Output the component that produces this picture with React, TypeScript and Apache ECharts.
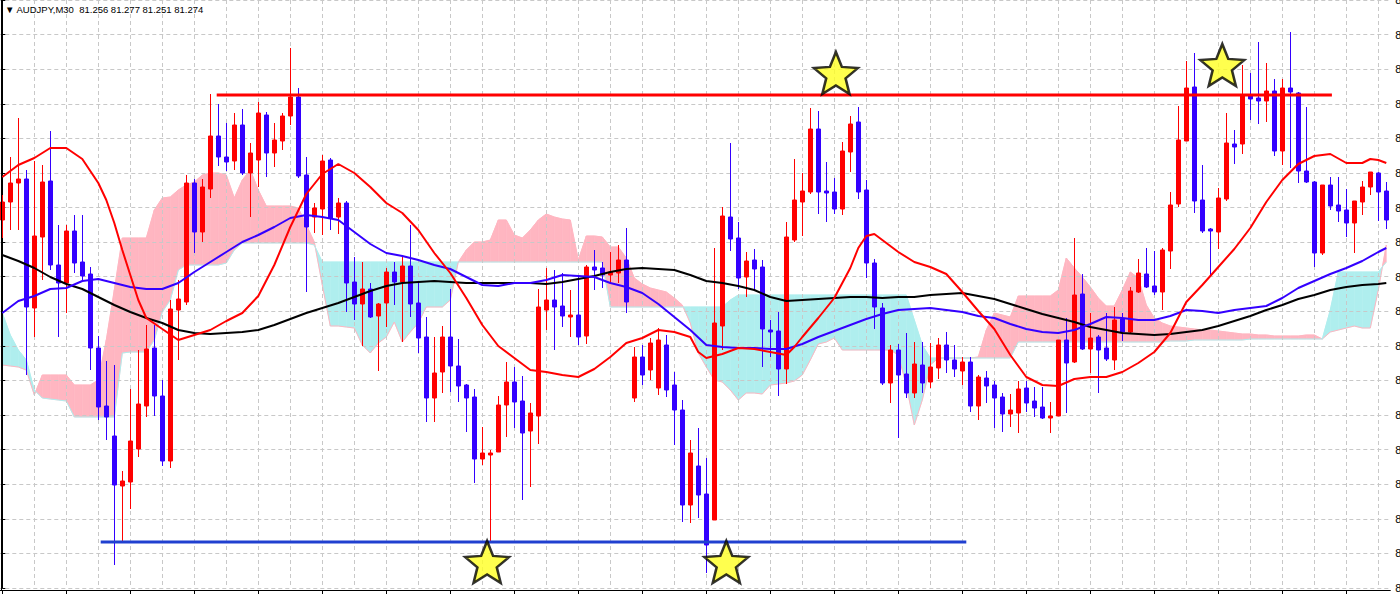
import React, { useEffect, useRef } from "react";
import * as echarts from "echarts";

const SYMBOL = "AUDJPY,M30";
const HEADER_QUOTE = ["81.256", "81.277", "81.251", "81.274"];

const Y_MIN = 81.212;
const Y_MAX = 81.8;
const Y_STEPS = 17;

// [open, high, low, close]
const ohlc: number[][] = [
  [81.580, 81.605, 81.562, 81.598], [81.598, 81.643, 81.570, 81.617], [81.617, 81.682, 81.570, 81.621], [81.621, 81.630, 81.425, 81.493],
  [81.492, 81.639, 81.463, 81.564], [81.563, 81.635, 81.520, 81.618], [81.619, 81.669, 81.530, 81.535], [81.535, 81.575, 81.463, 81.517],
  [81.517, 81.575, 81.487, 81.569], [81.569, 81.585, 81.527, 81.537], [81.538, 81.585, 81.520, 81.524], [81.526, 81.533, 81.430, 81.452],
  [81.452, 81.464, 81.380, 81.393], [81.394, 81.439, 81.360, 81.383], [81.364, 81.435, 81.235, 81.315], [81.314, 81.329, 81.258, 81.319],
  [81.318, 81.411, 81.291, 81.359], [81.351, 81.450, 81.343, 81.396], [81.394, 81.475, 81.383, 81.451], [81.452, 81.475, 81.384, 81.404],
  [81.404, 81.420, 81.334, 81.339], [81.339, 81.500, 81.332, 81.491], [81.490, 81.520, 81.440, 81.501], [81.498, 81.625, 81.495, 81.617],
  [81.617, 81.621, 81.547, 81.568], [81.568, 81.621, 81.558, 81.613], [81.611, 81.706, 81.602, 81.664], [81.664, 81.696, 81.634, 81.643],
  [81.643, 81.677, 81.629, 81.638], [81.639, 81.687, 81.630, 81.675], [81.675, 81.691, 81.625, 81.627], [81.627, 81.657, 81.583, 81.647],
  [81.640, 81.698, 81.613, 81.687], [81.685, 81.688, 81.623, 81.647], [81.647, 81.677, 81.633, 81.660], [81.659, 81.687, 81.650, 81.684],
  [81.684, 81.752, 81.675, 81.703], [81.703, 81.712, 81.622, 81.624], [81.625, 81.643, 81.508, 81.573], [81.583, 81.597, 81.567, 81.592],
  [81.591, 81.645, 81.565, 81.639], [81.640, 81.642, 81.570, 81.582], [81.583, 81.602, 81.566, 81.597], [81.597, 81.599, 81.488, 81.517],
  [81.518, 81.543, 81.480, 81.496], [81.496, 81.538, 81.454, 81.511], [81.511, 81.517, 81.482, 81.483], [81.484, 81.497, 81.429, 81.496],
  [81.497, 81.532, 81.473, 81.528], [81.528, 81.538, 81.495, 81.518], [81.518, 81.543, 81.458, 81.534], [81.534, 81.575, 81.483, 81.496],
  [81.497, 81.517, 81.447, 81.462], [81.463, 81.483, 81.378, 81.402], [81.402, 81.463, 81.378, 81.427], [81.428, 81.474, 81.407, 81.463],
  [81.463, 81.511, 81.408, 81.434], [81.434, 81.461, 81.398, 81.414], [81.415, 81.416, 81.368, 81.402], [81.403, 81.411, 81.317, 81.341],
  [81.341, 81.373, 81.335, 81.347], [81.345, 81.350, 81.257, 81.347], [81.348, 81.404, 81.348, 81.395], [81.395, 81.438, 81.363, 81.418],
  [81.418, 81.433, 81.372, 81.398], [81.399, 81.424, 81.300, 81.367], [81.369, 81.397, 81.313, 81.387], [81.384, 81.511, 81.356, 81.493],
  [81.490, 81.532, 81.470, 81.500], [81.500, 81.530, 81.450, 81.493], [81.494, 81.527, 81.473, 81.484], [81.483, 81.510, 81.463, 81.485],
  [81.485, 81.523, 81.455, 81.463], [81.464, 81.535, 81.456, 81.533], [81.533, 81.550, 81.510, 81.530], [81.532, 81.538, 81.512, 81.525],
  [81.525, 81.548, 81.517, 81.528], [81.527, 81.555, 81.517, 81.540], [81.540, 81.572, 81.487, 81.498], [81.402, 81.453, 81.398, 81.443],
  [81.443, 81.455, 81.415, 81.425], [81.430, 81.462, 81.420, 81.457], [81.412, 81.472, 81.405, 81.460], [81.455, 81.465, 81.403, 81.410],
  [81.415, 81.428, 81.355, 81.390], [81.390, 81.400, 81.278, 81.295], [81.295, 81.360, 81.277, 81.347], [81.334, 81.372, 81.282, 81.305],
  [81.306, 81.342, 81.227, 81.255], [81.280, 81.552, 81.280, 81.477], [81.474, 81.593, 81.450, 81.584], [81.583, 81.657, 81.549, 81.561],
  [81.562, 81.578, 81.511, 81.522], [81.523, 81.548, 81.503, 81.539], [81.540, 81.551, 81.510, 81.531], [81.533, 81.540, 81.433, 81.471],
  [81.470, 81.480, 81.443, 81.468], [81.469, 81.488, 81.404, 81.431], [81.431, 81.578, 81.416, 81.563], [81.560, 81.641, 81.558, 81.600],
  [81.598, 81.627, 81.564, 81.609], [81.608, 81.692, 81.606, 81.671], [81.671, 81.689, 81.586, 81.608], [81.609, 81.638, 81.578, 81.607],
  [81.608, 81.622, 81.586, 81.591], [81.591, 81.658, 81.585, 81.649], [81.648, 81.684, 81.628, 81.676], [81.678, 81.693, 81.601, 81.608],
  [81.610, 81.620, 81.522, 81.537], [81.537, 81.541, 81.471, 81.493], [81.492, 81.497, 81.415, 81.417], [81.417, 81.455, 81.397, 81.450],
  [81.450, 81.456, 81.362, 81.425], [81.426, 81.467, 81.402, 81.407], [81.407, 81.458, 81.402, 81.436], [81.435, 81.458, 81.407, 81.417],
  [81.418, 81.457, 81.412, 81.433], [81.432, 81.462, 81.421, 81.455], [81.455, 81.468, 81.427, 81.440], [81.440, 81.455, 81.423, 81.431],
  [81.429, 81.443, 81.415, 81.438], [81.438, 81.443, 81.388, 81.394], [81.394, 81.425, 81.380, 81.423], [81.422, 81.429, 81.397, 81.414],
  [81.415, 81.419, 81.372, 81.402], [81.403, 81.407, 81.368, 81.386], [81.386, 81.406, 81.373, 81.390], [81.387, 81.419, 81.367, 81.411],
  [81.412, 81.419, 81.388, 81.397], [81.399, 81.413, 81.383, 81.392], [81.393, 81.413, 81.381, 81.382], [81.382, 81.398, 81.367, 81.384],
  [81.384, 81.460, 81.384, 81.460], [81.460, 81.482, 81.387, 81.437], [81.438, 81.562, 81.437, 81.505], [81.506, 81.526, 81.450, 81.451],
  [81.451, 81.487, 81.427, 81.462], [81.463, 81.465, 81.407, 81.450], [81.452, 81.487, 81.439, 81.441], [81.440, 81.493, 81.430, 81.480],
  [81.481, 81.487, 81.459, 81.468], [81.468, 81.513, 81.467, 81.509], [81.508, 81.541, 81.507, 81.527], [81.526, 81.552, 81.512, 81.513],
  [81.514, 81.549, 81.505, 81.508], [81.508, 81.552, 81.490, 81.550], [81.549, 81.608, 81.531, 81.595], [81.596, 81.694, 81.593, 81.660],
  [81.659, 81.739, 81.659, 81.712], [81.713, 81.747, 81.587, 81.599], [81.600, 81.635, 81.567, 81.569], [81.571, 81.572, 81.523, 81.569],
  [81.568, 81.612, 81.551, 81.602], [81.601, 81.687, 81.599, 81.657], [81.656, 81.670, 81.636, 81.653], [81.656, 81.735, 81.646, 81.704],
  [81.704, 81.727, 81.680, 81.701], [81.702, 81.758, 81.676, 81.699], [81.699, 81.737, 81.678, 81.709], [81.709, 81.721, 81.644, 81.649],
  [81.649, 81.721, 81.635, 81.712], [81.712, 81.768, 81.632, 81.708], [81.707, 81.708, 81.617, 81.629], [81.629, 81.693, 81.617, 81.618],
  [81.618, 81.619, 81.533, 81.547], [81.547, 81.615, 81.545, 81.615], [81.615, 81.623, 81.590, 81.594], [81.595, 81.623, 81.578, 81.589],
  [81.590, 81.611, 81.563, 81.577], [81.577, 81.599, 81.547, 81.599], [81.598, 81.619, 81.585, 81.613], [81.613, 81.628, 81.605, 81.628],
  [81.627, 81.628, 81.579, 81.608], [81.609, 81.618, 81.571, 81.580],
];

// Ichimoku Senkou spans (one value per bar)
const spanA: number[] = [
  81.435, 81.434, 81.433, 81.430, 81.405, 81.425, 81.425, 81.425, 81.425, 81.415,
  81.415, 81.415, 81.420, 81.460, 81.510, 81.562, 81.562, 81.562, 81.562, 81.590,
  81.602, 81.603, 81.610, 81.615, 81.618, 81.625, 81.627, 81.627, 81.625, 81.602,
  81.620, 81.630, 81.610, 81.594, 81.594, 81.594, 81.594, 81.592, 81.575, 81.558,
  81.515, 81.474, 81.474, 81.473, 81.472, 81.455, 81.447, 81.457, 81.463, 81.478,
  81.458, 81.468, 81.477, 81.493, 81.493, 81.493, 81.500, 81.538, 81.550, 81.558,
  81.558, 81.560, 81.580, 81.580, 81.565, 81.562, 81.570, 81.580, 81.586, 81.583,
  81.581, 81.580, 81.540, 81.564, 81.564, 81.563, 81.553, 81.553, 81.542, 81.522,
  81.516, 81.512, 81.510, 81.508, 81.502, 81.495, 81.477, 81.447, 81.433, 81.420,
  81.418, 81.410, 81.400, 81.407, 81.407, 81.406, 81.415, 81.416, 81.417, 81.419,
  81.425, 81.440, 81.456, 81.458, 81.462, 81.450, 81.450, 81.450, 81.450, 81.450,
  81.450, 81.450, 81.445, 81.415, 81.375, 81.400, 81.435, 81.442, 81.442, 81.442,
  81.442, 81.442, 81.443, 81.470, 81.487, 81.485, 81.483, 81.504, 81.504, 81.504,
  81.504, 81.504, 81.510, 81.542, 81.532, 81.523, 81.513, 81.502, 81.494, 81.494,
  81.510, 81.528, 81.522, 81.495, 81.482, 81.477, 81.474, 81.473, 81.472, 81.471,
  81.470, 81.470, 81.469, 81.468, 81.467, 81.466, 81.466, 81.465, 81.465, 81.464,
  81.464, 81.464, 81.464, 81.465, 81.465, 81.461, 81.468, 81.470, 81.472, 81.474,
  81.472, 81.472, 81.510, 81.555,
];
const spanB: number[] = [
  81.487, 81.465, 81.450, 81.440, 81.410, 81.402, 81.401, 81.400, 81.399, 81.383,
  81.383, 81.383, 81.383, 81.383, 81.383, 81.447, 81.448, 81.448, 81.448, 81.460,
  81.488, 81.500, 81.530, 81.535, 81.535, 81.535, 81.535, 81.535, 81.537, 81.550,
  81.557, 81.557, 81.557, 81.557, 81.557, 81.557, 81.557, 81.557, 81.557, 81.555,
  81.538, 81.538, 81.538, 81.538, 81.538, 81.538, 81.538, 81.538, 81.538, 81.538,
  81.538, 81.538, 81.538, 81.538, 81.538, 81.538, 81.538, 81.538, 81.538, 81.538,
  81.538, 81.538, 81.538, 81.538, 81.538, 81.538, 81.538, 81.538, 81.538, 81.538,
  81.538, 81.538, 81.538, 81.538, 81.538, 81.538, 81.493, 81.493, 81.493, 81.493,
  81.493, 81.493, 81.493, 81.493, 81.493, 81.493, 81.493, 81.493, 81.493, 81.493,
  81.493, 81.500, 81.505, 81.505, 81.505, 81.505, 81.505, 81.505, 81.505, 81.505,
  81.505, 81.505, 81.505, 81.505, 81.505, 81.505, 81.505, 81.505, 81.505, 81.505,
  81.505, 81.505, 81.505, 81.505, 81.480, 81.455, 81.442, 81.442, 81.442, 81.442,
  81.442, 81.442, 81.442, 81.442, 81.442, 81.442, 81.442, 81.458, 81.458, 81.458,
  81.458, 81.458, 81.458, 81.458, 81.458, 81.458, 81.458, 81.458, 81.458, 81.458,
  81.458, 81.458, 81.458, 81.458, 81.458, 81.458, 81.459, 81.459, 81.459, 81.460,
  81.460, 81.460, 81.460, 81.460, 81.460, 81.460, 81.461, 81.461, 81.461, 81.461,
  81.461, 81.461, 81.461, 81.461, 81.461, 81.461, 81.490, 81.528, 81.528, 81.528,
  81.528, 81.528, 81.528, 81.538,
];

// moving averages as [bar index, price]
const redMA: number[][] = [
  [0, 81.623], [2, 81.635], [4, 81.642], [6, 81.652], [8, 81.652], [10, 81.641], [12, 81.617], [13, 81.600], [14, 81.577],
  [15, 81.550], [16, 81.525], [17, 81.500], [18, 81.482], [20, 81.471], [22, 81.460], [24, 81.465], [26, 81.470], [28, 81.479],
  [30, 81.487], [32, 81.504], [34, 81.535], [36, 81.573], [38, 81.606], [40, 81.626], [42, 81.636], [44, 81.627], [46, 81.613],
  [48, 81.597], [50, 81.587], [52, 81.570], [54, 81.547], [56, 81.527], [58, 81.502], [60, 81.475], [62, 81.454], [64, 81.442],
  [66, 81.430], [68, 81.428], [70, 81.425], [72, 81.423], [74, 81.431], [76, 81.443], [78, 81.457], [80, 81.462], [82, 81.470],
  [84, 81.468], [86, 81.463], [87, 81.448], [88, 81.442], [90, 81.446], [92, 81.452], [94, 81.451], [96, 81.448], [98, 81.445],
  [99, 81.453], [100, 81.463], [102, 81.482], [104, 81.502], [106, 81.532], [107, 81.552], [108, 81.564], [109, 81.566],
  [110, 81.560], [112, 81.548], [114, 81.538], [116, 81.533], [118, 81.526], [120, 81.508], [122, 81.489], [124, 81.471],
  [126, 81.445], [128, 81.423], [130, 81.415], [132, 81.414], [134, 81.421], [136, 81.423], [138, 81.423], [140, 81.428],
  [142, 81.437], [144, 81.448], [146, 81.467], [148, 81.498], [150, 81.515], [152, 81.533], [154, 81.551], [156, 81.572],
  [158, 81.598], [160, 81.620], [162, 81.636], [164, 81.644], [166, 81.646], [168, 81.637], [170, 81.637], [171, 81.641],
  [172, 81.640], [173, 81.637],
];
const blueMA: number[][] = [
  [0, 81.487], [2, 81.499], [4, 81.504], [6, 81.511], [8, 81.512], [10, 81.519], [12, 81.521], [14, 81.517], [16, 81.513],
  [18, 81.511], [20, 81.511], [22, 81.517], [24, 81.528], [26, 81.538], [28, 81.548], [30, 81.558], [32, 81.565], [34, 81.573],
  [36, 81.582], [38, 81.585], [40, 81.583], [42, 81.580], [44, 81.568], [46, 81.556], [48, 81.547], [50, 81.544], [52, 81.540],
  [54, 81.535], [56, 81.531], [58, 81.523], [60, 81.515], [62, 81.514], [64, 81.517], [66, 81.517], [68, 81.520], [70, 81.525],
  [72, 81.524], [74, 81.523], [76, 81.517], [78, 81.513], [80, 81.507], [82, 81.496], [84, 81.483], [86, 81.470], [88, 81.455],
  [90, 81.453], [92, 81.452], [94, 81.452], [96, 81.451], [98, 81.451], [100, 81.456], [102, 81.463], [104, 81.469], [106, 81.475],
  [108, 81.481], [110, 81.486], [112, 81.490], [114, 81.491], [116, 81.492], [118, 81.490], [120, 81.488], [122, 81.484],
  [124, 81.482], [126, 81.476], [128, 81.471], [130, 81.468], [132, 81.467], [134, 81.470], [136, 81.476], [138, 81.483],
  [140, 81.482], [142, 81.480], [144, 81.480], [146, 81.484], [148, 81.490], [150, 81.489], [152, 81.487], [154, 81.490],
  [156, 81.492], [158, 81.494], [160, 81.502], [162, 81.512], [164, 81.519], [166, 81.526], [168, 81.532], [170, 81.539],
  [172, 81.548], [173, 81.552],
];
const blackMA: number[][] = [
  [0, 81.545], [2, 81.539], [4, 81.532], [6, 81.523], [8, 81.516], [10, 81.511], [12, 81.503], [14, 81.495], [16, 81.488],
  [18, 81.482], [20, 81.477], [22, 81.470], [24, 81.467], [26, 81.466], [28, 81.467], [30, 81.468], [32, 81.470], [34, 81.475],
  [36, 81.481], [38, 81.487], [40, 81.492], [42, 81.497], [44, 81.503], [46, 81.509], [48, 81.514], [50, 81.517], [52, 81.518],
  [54, 81.519], [56, 81.518], [58, 81.517], [60, 81.517], [62, 81.517], [64, 81.517], [66, 81.517], [68, 81.516], [70, 81.518],
  [72, 81.521], [74, 81.524], [76, 81.528], [78, 81.531], [80, 81.532], [82, 81.531], [84, 81.530], [86, 81.525], [88, 81.519],
  [90, 81.517], [92, 81.514], [94, 81.510], [96, 81.503], [98, 81.499], [100, 81.500], [102, 81.501], [104, 81.502], [106, 81.503],
  [108, 81.503], [110, 81.502], [112, 81.503], [114, 81.503], [116, 81.505], [118, 81.506], [120, 81.507], [122, 81.504],
  [124, 81.501], [126, 81.496], [128, 81.491], [130, 81.486], [132, 81.482], [134, 81.478], [136, 81.473], [138, 81.470],
  [140, 81.467], [142, 81.466], [144, 81.465], [146, 81.466], [148, 81.468], [150, 81.470], [152, 81.474], [154, 81.479],
  [156, 81.484], [158, 81.490], [160, 81.495], [162, 81.501], [164, 81.505], [166, 81.510], [168, 81.513], [170, 81.515],
  [172, 81.516], [173, 81.517],
];

// drawn levels [bar index, price]
const resistanceLine: number[][] = [[26.8, 81.705], [166.2, 81.705]];
const supportLine: number[][] = [[12.3, 81.258], [120.5, 81.258]];
const starPoints: number[][] = [[60.6, 81.238], [90.5, 81.238], [104.2, 81.727], [152.5, 81.735]];

const categories = ohlc.map((_, i) => String(i));

const PINK = "#ffb6c1";
const CYAN = "#afeeee";
const BULL = "#ff0000";
const BEAR = "#3300ff";
const STAR_PATH =
  "path://M50 0 L62.93 32.2 L97.55 34.55 L70.92 56.8 L79.39 90.45 L50 72 L20.61 90.45 L29.08 56.8 L2.45 34.55 L37.07 32.2 Z";

export default function App() {
  const ref = useRef<HTMLDivElement>(null);

  useEffect(() => {
    if (!ref.current) return;
    const chart = echarts.init(ref.current, null, { renderer: "svg" });
    const n = ohlc.length;
    const candleData = ohlc.map(([o, h, l, c]) => [o, c, l, h]);
    const cloudData: number[][] = [];
    for (let i = 0; i < n - 1; i++) {
      cloudData.push([i, spanA[i], spanB[i], spanA[i + 1], spanB[i + 1]]);
    }

    const poly = (points: number[][], fill: string) => ({
      type: "polygon",
      shape: { points },
      style: { fill, stroke: fill, lineWidth: 0.6 },
    });

    const renderCloud = (_params: any, api: any) => {
      const i = api.value(0);
      const va0 = api.value(1), vb0 = api.value(2), va1 = api.value(3), vb1 = api.value(4);
      const a0 = api.coord([i, va0]);
      const b0 = api.coord([i, vb0]);
      const a1 = api.coord([i + 1, va1]);
      const b1 = api.coord([i + 1, vb1]);
      const d0 = va0 - vb0;
      const d1 = va1 - vb1;
      const col = (d: number) => (d > 0 ? PINK : CYAN);
      if (d0 * d1 >= 0) {
        return poly([a0, a1, b1, b0], col(d0 + d1));
      }
      const t = d0 / (d0 - d1);
      const cp = [a0[0] + t * (a1[0] - a0[0]), a0[1] + t * (a1[1] - a0[1])];
      return {
        type: "group",
        children: [poly([a0, cp, b0], col(d0)), poly([cp, a1, b1], col(d1))],
      };
    };

    const gridDash = { color: "#c8c8c8", type: [4, 3] as any, width: 1 };

    const lineSeries = (data: number[][], color: string, width: number, z: number) => ({
      type: "line",
      xAxisIndex: 2,
      yAxisIndex: 0,
      data,
      symbol: "none",
      silent: true,
      lineStyle: { color, width },
      z,
    });

    const option: any = {
      animation: false,
      backgroundColor: "#ffffff",
      title: {
        text: `\u25BC ${SYMBOL}  ${HEADER_QUOTE.join(" ")}`,
        left: 5,
        top: 4,
        padding: 0,
        textStyle: {
          fontSize: 9.5,
          fontWeight: "normal",
          color: "#000",
          fontFamily: "Liberation Sans, Arial, sans-serif",
        },
      },
      grid: [
        { left: -1.7, top: 0, width: 1392, height: 588, outerBoundsMode: "none", containLabel: false },
        { left: 2.3, top: 0, width: 1376, height: 588, outerBoundsMode: "none", containLabel: false },
      ],
      xAxis: [
        {
          type: "category",
          gridIndex: 0,
          data: categories,
          boundaryGap: true,
          offset: 2,
          axisLine: { show: true, lineStyle: { color: "#000", width: 1 } },
          axisTick: { show: true, alignWithLabel: true, interval: 7, length: 4, lineStyle: { color: "#000" } },
          axisLabel: { show: false },
          splitLine: { show: false },
          z: 3,
        },
        {
          type: "value",
          gridIndex: 1,
          min: 0,
          max: 172,
          interval: 4,
          axisLine: { show: false },
          axisTick: { show: false },
          axisLabel: { show: false },
          splitLine: { show: true, lineStyle: gridDash },
          z: 1,
        },
        { type: "value", gridIndex: 0, min: -0.5, max: 173.5, show: false },
      ],
      yAxis: [
        {
          type: "value",
          gridIndex: 0,
          position: "right",
          min: Y_MIN,
          max: Y_MAX,
          interval: (Y_MAX - Y_MIN) / Y_STEPS,
          axisLine: { show: true, lineStyle: { color: "#000", width: 1 } },
          axisTick: { show: true, length: 3, lineStyle: { color: "#000" } },
          axisLabel: {
            show: true,
            margin: 5,
            color: "#000",
            fontSize: 11,
            fontFamily: "Liberation Sans, Arial, sans-serif",
            formatter: (v: number) => v.toFixed(3),
          },
          splitLine: { show: true, lineStyle: gridDash },
          z: 1,
        },
        { type: "value", gridIndex: 1, min: Y_MIN, max: Y_MAX, show: false },
      ],
      graphic: [
        {
          type: "line",
          shape: { x1: 1.5, y1: 0, x2: 1.5, y2: 591 },
          style: { stroke: "#000", lineWidth: 1 },
          z: 10,
        },
      ],
      series: [
        {
          type: "custom",
          name: "cloud",
          xAxisIndex: 2,
          yAxisIndex: 0,
          data: cloudData,
          renderItem: renderCloud,
          encode: { x: 0, y: [1, 2, 3, 4] },
          silent: true,
          z: 0,
        },
        lineSeries(spanA.map((v, i) => [i, v]), PINK, 1, 0),
        lineSeries(spanB.map((v, i) => [i, v]), CYAN, 1, 0),
        {
          type: "candlestick",
          xAxisIndex: 0,
          yAxisIndex: 0,
          data: candleData,
          barWidth: 4,
          silent: true,
          itemStyle: {
            color: BULL,
            color0: BEAR,
            borderColor: BULL,
            borderColor0: BEAR,
            borderWidth: 1,
          },
          z: 2,
        },
        lineSeries(blackMA, "#000000", 2, 3),
        lineSeries(blueMA, "#3300ff", 2, 3),
        lineSeries(redMA, "#ff0000", 2, 3),
        lineSeries(resistanceLine, "#ff0000", 3, 4),
        lineSeries(supportLine, "#2040d0", 3, 4),
        {
          type: "scatter",
          xAxisIndex: 2,
          yAxisIndex: 0,
          data: starPoints,
          symbol: STAR_PATH,
          symbolSize: [44, 42],
          silent: true,
          itemStyle: { color: "#ffff22", borderColor: "#000", borderWidth: 2.5 },
          z: 5,
        },
      ],
    };

    chart.setOption(option);
    return () => chart.dispose();
  }, []);

  return (
    <div
      style={{
        position: "absolute",
        left: 0,
        top: 0,
        width: 1400,
        height: 596,
        overflow: "hidden",
        background: "#fff",
      }}
    >
      <div ref={ref} style={{ width: 1400, height: 596 }} />
    </div>
  );
}
